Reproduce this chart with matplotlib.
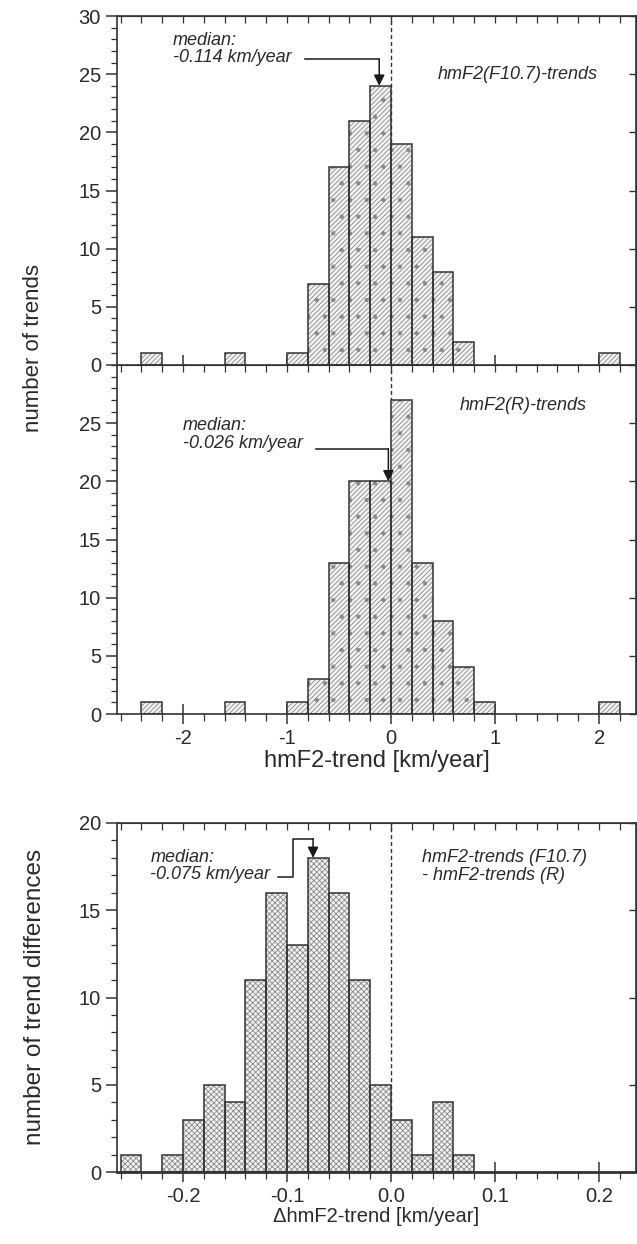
import matplotlib
matplotlib.use('Agg')
import matplotlib.pyplot as plt
from matplotlib.ticker import MultipleLocator
import numpy as np

plt.rcParams['font.family'] = ['Liberation Sans', 'DejaVu Sans']
plt.rcParams['axes.unicode_minus'] = False
plt.rcParams['hatch.linewidth'] = 0.6

# ---------------- data ----------------
f107_bins = [-2.4, -1.6, -1.0, -0.8, -0.6, -0.4, -0.2, 0.0, 0.2, 0.4, 0.6, 2.0]
f107_counts = [1, 1, 1, 7, 17, 21, 24, 19, 11, 8, 2, 1]

r_bins = [-2.4, -1.6, -1.0, -0.8, -0.6, -0.4, -0.2, 0.0, 0.2, 0.4, 0.6, 0.8, 2.0]
r_counts = [1, 1, 1, 3, 13, 20, 20, 27, 13, 8, 4, 1, 1]

diff_bins = [-0.26, -0.22, -0.20, -0.18, -0.16, -0.14, -0.12, -0.10, -0.08,
             -0.06, -0.04, -0.02, 0.0, 0.02, 0.04, 0.06]
diff_counts = [1, 1, 3, 5, 4, 11, 16, 13, 18, 16, 11, 5, 3, 1, 4, 1]

trend_width = 0.2
diff_width = 0.02

medians = [-0.114, -0.026, -0.075]
median_texts = ["median:\n-0.114 km/year", "median:\n-0.026 km/year",
                "median:\n-0.075 km/year"]
panel_titles = ["hmF2(F10.7)-trends", "hmF2(R)-trends",
                "hmF2-trends (F10.7)\n- hmF2-trends (R)"]

# ---------------- figure ----------------
W, H = 637, 1244
fig = plt.figure(figsize=(W / 100, H / 100), dpi=100)
TXT = '#2a2a2a'
EDGE = '#333333'


def pos(top_px, bot_px):
    return [117 / W, 1 - bot_px / H, 519 / W, (bot_px - top_px) / H]


ax1 = fig.add_axes(pos(16, 365))
ax2 = fig.add_axes(pos(365, 714))
ax3 = fig.add_axes(pos(823, 1172))


def bars(ax, bins, counts, width, hatch):
    ax.bar(bins, counts, width=width, align='edge', color='#f2f2f2',
           edgecolor='#8a8a8a', hatch=hatch, linewidth=0, zorder=2)
    ax.bar(bins, counts, width=width, align='edge', fill=False,
           edgecolor=EDGE, linewidth=1.1, zorder=3)


def count_at(bins, counts, width, x):
    for b, c in zip(bins, counts):
        if b <= x < b + width:
            return c
    return 0


def style(ax, xmaj, xmin, ymaj, ymin, bottom_lw=1.2):
    for s in ax.spines.values():
        s.set_color(EDGE)
        s.set_linewidth(1.2)
    ax.spines['bottom'].set_linewidth(bottom_lw)
    ax.xaxis.set_major_locator(MultipleLocator(xmaj))
    ax.xaxis.set_minor_locator(MultipleLocator(xmin))
    ax.yaxis.set_major_locator(MultipleLocator(ymaj))
    ax.yaxis.set_minor_locator(MultipleLocator(ymin))
    ax.tick_params(axis='y', which='major', direction='out', length=8,
                   width=1.1, colors=EDGE, labelsize=14.5, labelcolor=TXT,
                   right=False)
    ax.tick_params(axis='y', which='minor', direction='out', length=4,
                   width=0.9, colors=EDGE, right=False)
    ax.tick_params(axis='x', which='major', direction='inout', length=14,
                   width=1.1, colors=EDGE, labelsize=14.5, labelcolor=TXT,
                   top=True)
    ax.tick_params(axis='x', which='minor', direction='out', length=5,
                   width=0.9, colors=EDGE, top=True)
    sec = ax.secondary_yaxis('right')
    sec.yaxis.set_major_locator(MultipleLocator(ymaj))
    sec.tick_params(direction='in', length=5, width=1.0, colors=EDGE,
                    labelright=False)
    sec.spines['right'].set_color(EDGE)
    sx = ax.secondary_xaxis('top')
    sx.xaxis.set_major_locator(MultipleLocator(xmaj))
    sx.xaxis.set_minor_locator(MultipleLocator(xmin))
    sx.tick_params(which='both', direction='in', length=5, width=0.9,
                   colors=EDGE, labeltop=False)
    sx.spines['top'].set_color(EDGE)
    ax.tick_params(axis='x', which='both', top=False)


# ---- top panel ----
bars(ax1, f107_bins, f107_counts, trend_width, '///////.')
ax1.set_xlim(-2.635, 2.355)
ax1.set_ylim(0, 30)
style(ax1, 1, 0.2, 5, 1)
ax1.tick_params(axis='x', labelbottom=False)
ax1.axvline(0, color=EDGE, ls=(0, (3, 2)), lw=1.0, zorder=1)

# ---- middle panel ----
bars(ax2, r_bins, r_counts, trend_width, '///////.')
ax2.set_xlim(-2.635, 2.355)
ax2.set_ylim(0, 30)
style(ax2, 1, 0.2, 5, 1)
ax2.set_yticks([0, 5, 10, 15, 20, 25])
ax2.spines['top'].set_visible(False)
ax2.axvline(0, color=EDGE, ls=(0, (3, 2)), lw=1.0, zorder=1)
ax2.set_xlabel('hmF2-trend [km/year]', fontsize=17, color=TXT, labelpad=2)

# ---- bottom panel ----
bars(ax3, diff_bins, diff_counts, diff_width, 'xxxxxx')
ax3.set_xlim(-0.2635, 0.2355)
ax3.set_ylim(0, 20)
style(ax3, 0.1, 0.02, 5, 1, bottom_lw=2.0)
ax3.axvline(0, color=EDGE, ls=(0, (3, 2)), lw=1.0, zorder=1)
ax3.set_xticks([-0.2, -0.1, 0.0, 0.1, 0.2])
ax3.set_xticklabels(['-0.2', '-0.1', '0.0', '0.1', '0.2'])
ax3.set_xlabel('\u0394hmF2-trend [km/year]', fontsize=14.5, color=TXT,
               labelpad=1)

# y labels
fig.text(34 / W, 1 - 348 / H, 'number of trends', rotation=90, fontsize=16,
         color=TXT, ha='center', va='center')
fig.text(35 / W, 1 - 997 / H, 'number of trend differences', rotation=90,
         fontsize=17.5, color=TXT, ha='center', va='center')

# ---- annotations ----
aprops = dict(arrowstyle='-|>', color='#1a1a1a', lw=1.1, mutation_scale=16,
              shrinkA=0, shrinkB=0)

# top
tip1 = count_at(f107_bins, f107_counts, trend_width, medians[0])
ax1.text(0.108, 0.905, median_texts[0], transform=ax1.transAxes, fontsize=13,
         style='italic', color=TXT, ha='left', va='center', linespacing=1.05)
ax1.plot([-0.83, medians[0]], [26.3, 26.3], color='#1a1a1a', lw=1.1)
ax1.annotate('', xy=(medians[0], tip1), xytext=(medians[0], 26.3),
             arrowprops=aprops)
ax1.text(0.617, 0.831, panel_titles[0], transform=ax1.transAxes, fontsize=13,
         style='italic', color=TXT, ha='left', va='center')

# middle
tip2 = count_at(r_bins, r_counts, trend_width, medians[1])
ax2.text(0.127, 0.801, median_texts[1], transform=ax2.transAxes, fontsize=13,
         style='italic', color=TXT, ha='left', va='center', linespacing=1.05)
ax2.plot([-0.72, medians[1]], [22.8, 22.8], color='#1a1a1a', lw=1.1)
ax2.annotate('', xy=(medians[1], tip2), xytext=(medians[1], 22.8),
             arrowprops=aprops)
ax2.text(0.661, 0.885, panel_titles[1], transform=ax2.transAxes, fontsize=13,
         style='italic', color=TXT, ha='left', va='center')

# bottom
tip3 = count_at(diff_bins, diff_counts, diff_width, medians[2])
ax3.text(0.064, 0.877, median_texts[2], transform=ax3.transAxes, fontsize=13,
         style='italic', color=TXT, ha='left', va='center', linespacing=1.05)
ax3.plot([-0.109, -0.094, -0.094, medians[2]], [16.9, 16.9, 19.1, 19.1],
         color='#1a1a1a', lw=1.1)
ax3.annotate('', xy=(medians[2], tip3), xytext=(medians[2], 19.1),
             arrowprops=aprops)
ax3.text(0.588, 0.875, panel_titles[2], transform=ax3.transAxes, fontsize=13,
         style='italic', color=TXT, ha='left', va='center', linespacing=1.05)

fig.savefig('out.png', dpi=100)
